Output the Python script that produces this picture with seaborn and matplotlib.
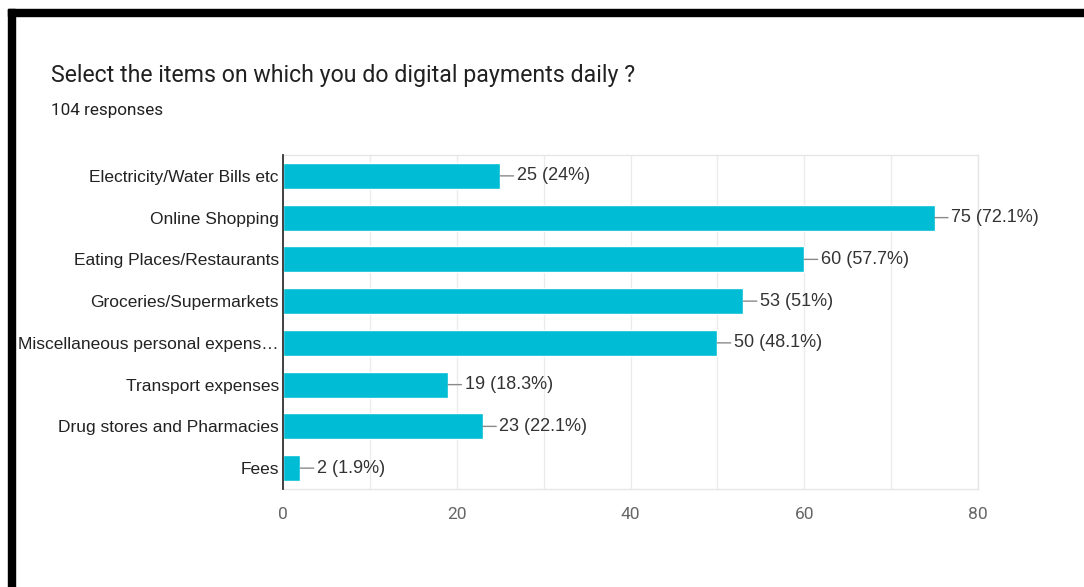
import matplotlib
matplotlib.use("Agg")
import matplotlib.pyplot as plt
import seaborn as sns
import pandas as pd
from matplotlib.patches import Rectangle

# Survey results
question = "Select the items on which you do digital payments daily ?"
total_responses = 104
categories = [
    "Electricity/Water Bills etc",
    "Online Shopping",
    "Eating Places/Restaurants",
    "Groceries/Supermarkets",
    "Miscellaneous personal expens\u2026",
    "Transport expenses",
    "Drug stores and Pharmacies",
    "Fees",
]
counts = [25, 75, 60, 53, 50, 19, 23, 2]
x_ticks = [0, 20, 40, 60, 80]

df = pd.DataFrame({"item": categories, "count": counts})

sns.set_theme(style="white")
plt.rcParams["font.family"] = ["Liberation Sans", "DejaVu Sans"]

W, H = 1084, 587
fig = plt.figure(figsize=(W / 100, H / 100), dpi=100)
fig.patch.set_facecolor("white")

ax = fig.add_axes([283 / W, 1 - 489 / H, (978 - 283) / W, (489 - 155) / H])

sns.barplot(data=df, x="count", y="item", orient="h", color="#00bcd4",
            saturation=1, width=0.62, ax=ax, zorder=3)

ax.set_xlim(0, 80)
ax.set_ylim(len(categories) - 0.5, -0.5)
ax.set_xticks(x_ticks)
ax.set_xticks([10, 30, 50, 70], minor=True)
ax.grid(axis="x", which="both", color="#ebebeb", linewidth=1, zorder=0)
ax.set_xlabel("")
ax.set_ylabel("")

for side in ("top", "right", "bottom"):
    ax.spines[side].set_color("#e6e6e6")
    ax.spines[side].set_linewidth(1)
ax.spines["left"].set_color("#333333")
ax.spines["left"].set_linewidth(1.3)
ax.spines["left"].set_zorder(5)

ax.tick_params(axis="x", which="both", length=0, pad=13, labelsize=12.5,
               labelcolor="#666666")
ax.tick_params(axis="y", length=0, pad=3, labelsize=12.5, labelcolor="#222222")
for lab in ax.get_xticklabels():
    lab.set_family(["Roboto", "DejaVu Sans"])


def pct(v):
    s = f"{v / total_responses * 100:.1f}"
    return s[:-2] if s.endswith(".0") else s


for i, v in enumerate(counts):
    ax.annotate(f"{v} ({pct(v)}%)", xy=(v, i), xytext=(12, 0),
                textcoords="offset points", ha="left", va="center",
                fontsize=13, color="#333333",
                arrowprops=dict(arrowstyle="-", color="#8a8a8a", lw=1,
                                relpos=(0, 0.5), shrinkA=0, shrinkB=0))

fig.text(51 / W, 1 - 82 / H, question, family=["Roboto", "DejaVu Sans"],
         fontsize=16.7, color="#212121", va="baseline", ha="left")
fig.text(51 / W, 1 - 115 / H, f"{total_responses} responses",
         family=["Roboto", "DejaVu Sans"], fontsize=12.3, color="#212121",
         va="baseline", ha="left")

# Black frame along the top and left edges
fig.patches.append(Rectangle((8 / W, 1 - 16 / H), 1 - 8 / W, 7 / H,
                             transform=fig.transFigure, color="black",
                             zorder=10))
fig.patches.append(Rectangle((8 / W, 0), 7 / W, 1 - 9 / H,
                             transform=fig.transFigure, color="black",
                             zorder=10))

fig.savefig("out.png", dpi=100, facecolor="white")
